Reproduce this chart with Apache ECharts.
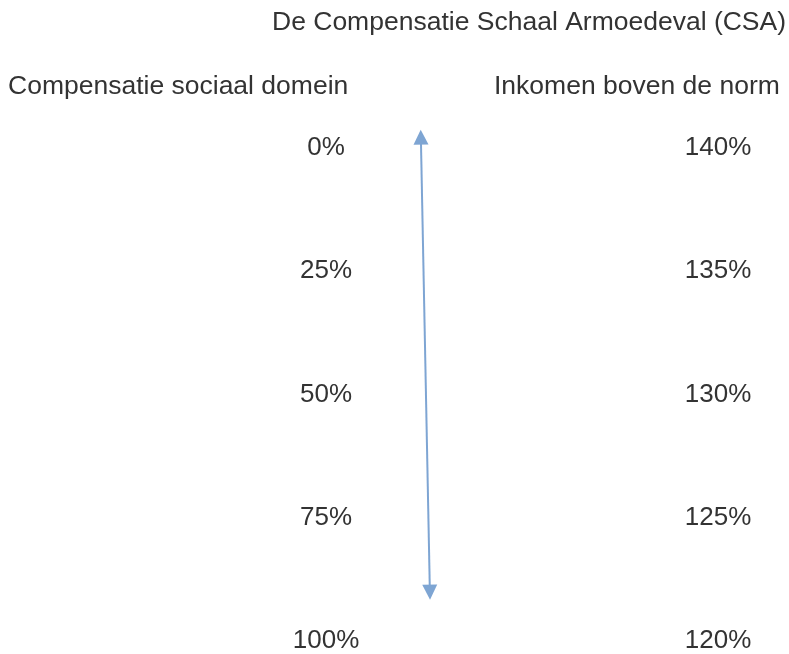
<!DOCTYPE html>
<html>
<head>
<meta charset="utf-8">
<title>De Compensatie Schaal Armoedeval (CSA)</title>
<script src="https://cdn.jsdelivr.net/npm/echarts@6/dist/echarts.min.js"></script>
<style>
  html, body { margin: 0; padding: 0; background: #fff; }
  #chart { width: 789px; height: 654px; }
</style>
</head>
<body>
<div id="chart"></div>
<script>
// scale values
const compensatie = [0, 25, 50, 75, 100]
const inkomen = [140, 135, 130, 125, 120]
// double arrow: [x (0..1 across the grid), compensatie value]
const arrowFrom = [0.242, -2.2]
const arrowTo = [0.265, 90.1]

const textColor = '#333'
const font = 'Liberation Sans, Arial, sans-serif'

const chart = echarts.init(document.getElementById('chart'))
chart.setOption({
  backgroundColor: '#fff',
  animation: false,
  title: [
    {
      text: 'De Compensatie Schaal Armoedeval (CSA)',
      left: 267,
      top: 4,
      textStyle: { color: textColor, fontSize: 26.5, fontWeight: 'normal', fontFamily: font },
    },
    {
      text: 'Compensatie sociaal domein',
      left: 3,
      top: 68,
      textStyle: { color: textColor, fontSize: 26.5, fontWeight: 'normal', fontFamily: font },
    },
    {
      text: 'Inkomen boven de norm',
      left: 489,
      top: 68,
      textStyle: { color: textColor, fontSize: 26.5, fontWeight: 'normal', fontFamily: font },
    },
  ],
  grid: {
    left: 326,
    right: 71,
    top: 148,
    bottom: 11,
  },
  xAxis: {
    type: 'value',
    min: 0,
    max: 1,
    show: false,
  },
  yAxis: [
    {
      type: 'value',
      position: 'left',
      inverse: true,
      min: compensatie[0],
      max: compensatie[compensatie.length - 1],
      interval: 25,
      axisLine: { show: false },
      axisTick: { show: false },
      splitLine: { show: false },
      axisLabel: {
        margin: 0,
        align: 'center',
        color: textColor,
        fontSize: 26,
        fontFamily: font,
        formatter: '{value}%',
      },
    },
    {
      type: 'value',
      position: 'right',
      min: inkomen[inkomen.length - 1],
      max: inkomen[0],
      interval: 5,
      axisLine: { show: false },
      axisTick: { show: false },
      splitLine: { show: false },
      axisLabel: {
        margin: 0,
        align: 'center',
        color: textColor,
        fontSize: 26,
        fontFamily: font,
        formatter: '{value}%',
      },
    },
  ],
  series: [
    {
      type: 'lines',
      coordinateSystem: 'cartesian2d',
      xAxisIndex: 0,
      yAxisIndex: 0,
      clip: false,
      silent: true,
      symbol: ['triangle', 'triangle'],
      symbolSize: 15,
      lineStyle: {
        color: '#7ea5d3',
        width: 2,
        opacity: 1,
      },
      data: [{ coords: [arrowFrom, arrowTo] }],
    },
  ],
})
</script>
</body>
</html>
